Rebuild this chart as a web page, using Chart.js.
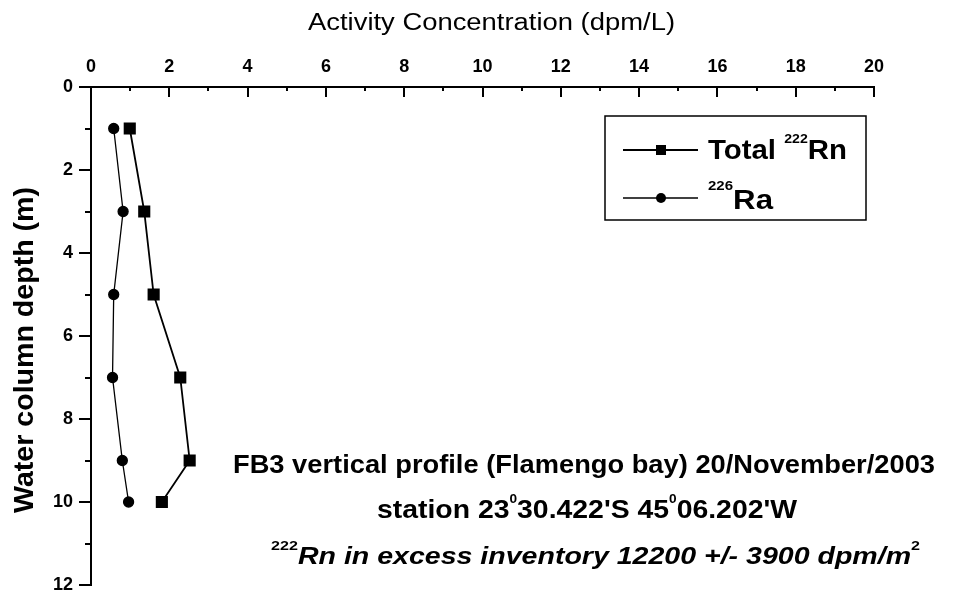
<!DOCTYPE html>
<html>
<head>
<meta charset="utf-8">
<script src="https://cdn.jsdelivr.net/npm/chart.js@4.4.1/dist/chart.umd.min.js"></script>
<style>
  html, body { margin: 0; padding: 0; background: #fff; }
  #wrap { width: 954px; height: 592px; }
</style>
</head>
<body>
<div id="wrap"><canvas id="profileChart" width="954" height="592"></canvas></div>
<script>
// depth (m) of each sample and activity concentrations (dpm/L)
const depths = [1, 3, 5, 7, 9, 10];
const rnTotal = [0.99, 1.36, 1.60, 2.28, 2.52, 1.81];
const ra226 = [0.58, 0.82, 0.58, 0.55, 0.80, 0.96];
const xTickLabels = [0, 2, 4, 6, 8, 10, 12, 14, 16, 18, 20];
const yTickLabels = [0, 2, 4, 6, 8, 10, 12];

const FONT = "'Liberation Sans', Arial, sans-serif";

// text with superscript pieces, stretched to span x0..x1 like the scanned original
function drawRich(ctx, parts, x0, x1, y, font, supFont, rise) {
    let total = 0;
    parts.forEach(p => {
        ctx.font = p.sup ? supFont : font;
        p.w = ctx.measureText(p.t).width;
        total += p.w;
    });
    const sx = x1 ? (x1 - x0) / total : 1;
    ctx.save();
    ctx.translate(x0, y);
    ctx.scale(sx, 1);
    let cx = 0;
    parts.forEach(p => {
        ctx.font = p.sup ? supFont : font;
        ctx.fillText(p.t, cx, p.sup ? -rise : 0);
        cx += p.w;
    });
    ctx.restore();
}

const extras = {
    id: 'extras',
    afterDraw(chart) {
        const ctx = chart.ctx;
        const xs = chart.scales.x, ys = chart.scales.y;
        const top = chart.chartArea.top, left = chart.chartArea.left;
        ctx.save();
        ctx.strokeStyle = '#000';
        ctx.fillStyle = '#000';
        ctx.lineWidth = 2;
        ctx.textBaseline = 'alphabetic';
        ctx.textAlign = 'left';

        // x ticks point down into the plot, y ticks point outwards
        ctx.beginPath();
        for (let v = 0; v <= 20; v++) {
            const px = Math.round(xs.getPixelForValue(v));
            ctx.moveTo(px, top);
            ctx.lineTo(px, top + (v % 2 === 0 ? 10 : 4));
        }
        for (let v = 0; v <= 12; v++) {
            const py = Math.round(ys.getPixelForValue(v));
            ctx.moveTo(left, py);
            ctx.lineTo(left - (v % 2 === 0 ? 12 : 6), py);
        }
        ctx.stroke();

        // axis titles
        drawRich(ctx, [{ t: 'Activity Concentration (dpm/L)' }], 308, 675, 30, '23px ' + FONT, '', 0);
        ctx.save();
        ctx.translate(33, 350);
        ctx.rotate(-Math.PI / 2);
        drawRich(ctx, [{ t: 'Water column depth (m)' }], -163, 163, 0, 'bold 28px ' + FONT, '', 0);
        ctx.restore();

        // legend
        ctx.lineWidth = 1.5;
        ctx.strokeRect(605, 116, 261, 104);
        const rows = [
            { y: 150, base: 159, x1: 847, rise: 16, marker: 'rect', parts: [{ t: 'Total ' }, { t: '222', sup: true }, { t: 'Rn' }] },
            { y: 198, base: 209, x1: 773, rise: 19, marker: 'circle', parts: [{ t: '226', sup: true }, { t: 'Ra' }] }
        ];
        rows.forEach(r => {
            ctx.beginPath();
            ctx.lineWidth = r.marker === 'rect' ? 1.8 : 1.3;
            ctx.moveTo(623, r.y);
            ctx.lineTo(698, r.y);
            ctx.stroke();
            if (r.marker === 'rect') {
                ctx.fillRect(656, r.y - 5, 10, 10);
            } else {
                ctx.beginPath();
                ctx.arc(661, r.y, 5, 0, Math.PI * 2);
                ctx.fill();
            }
            drawRich(ctx, r.parts, 708, r.x1, r.base, 'bold 27px ' + FONT, 'bold 13px ' + FONT, r.rise);
        });

        // annotation block
        drawRich(ctx, [{ t: 'FB3 vertical profile (Flamengo bay) 20/November/2003' }],
            233, 935, 473, 'bold 25px ' + FONT, '', 0);
        drawRich(ctx, [{ t: 'station 23' }, { t: '0', sup: true }, { t: "30.422'S 45" }, { t: '0', sup: true }, { t: "06.202'W" }],
            377, 797, 518, 'bold 25px ' + FONT, 'bold 12px ' + FONT, 15);
        drawRich(ctx, [{ t: '222', sup: true }, { t: 'Rn in excess inventory 12200 +/- 3900 dpm/m' }, { t: '2', sup: true }],
            271, 920, 564, 'italic bold 23px ' + FONT, 'bold 13px ' + FONT, 14);
        ctx.restore();
    }
};

new Chart(document.getElementById('profileChart'), {
    type: 'scatter',
    data: {
        datasets: [
            {
                label: 'Total 222Rn',
                data: depths.map((d, i) => ({ x: rnTotal[i], y: d })),
                showLine: true,
                borderColor: '#000',
                backgroundColor: '#000',
                borderWidth: 1.8,
                pointStyle: 'rect',
                pointRadius: 7.3,
                pointHoverRadius: 7.3
            },
            {
                label: '226Ra',
                data: depths.map((d, i) => ({ x: ra226[i], y: d })),
                showLine: true,
                borderColor: '#000',
                backgroundColor: '#000',
                borderWidth: 1.3,
                pointStyle: 'circle',
                pointRadius: 5,
                pointHoverRadius: 5
            }
        ]
    },
    options: {
        responsive: false,
        animation: false,
        layout: { autoPadding: false, padding: { left: 0, top: 0, right: 80, bottom: 7 } },
        plugins: { legend: { display: false }, tooltip: { enabled: false } },
        scales: {
            x: {
                type: 'linear',
                position: 'top',
                min: 0,
                max: 20,
                afterBuildTicks: s => { s.ticks = xTickLabels.map(v => ({ value: v })); },
                afterFit: s => { s.height = 87; s.paddingLeft = 0; s.paddingRight = 0; },
                ticks: { color: '#000', padding: 9, font: { family: FONT, size: 18, weight: 'bold' } },
                grid: { drawOnChartArea: false, drawTicks: false },
                border: { display: true, color: '#000', width: 2 }
            },
            y: {
                type: 'linear',
                position: 'left',
                reverse: true,
                min: 0,
                max: 12,
                afterBuildTicks: s => { s.ticks = yTickLabels.map(v => ({ value: v })); },
                afterFit: s => { s.width = 91; s.paddingTop = 0; s.paddingBottom = 0; },
                ticks: { color: '#000', padding: 18, font: { family: FONT, size: 18, weight: 'bold' } },
                grid: { drawOnChartArea: false, drawTicks: false },
                border: { display: true, color: '#000', width: 2 }
            }
        }
    },
    plugins: [extras]
});
</script>
</body>
</html>
